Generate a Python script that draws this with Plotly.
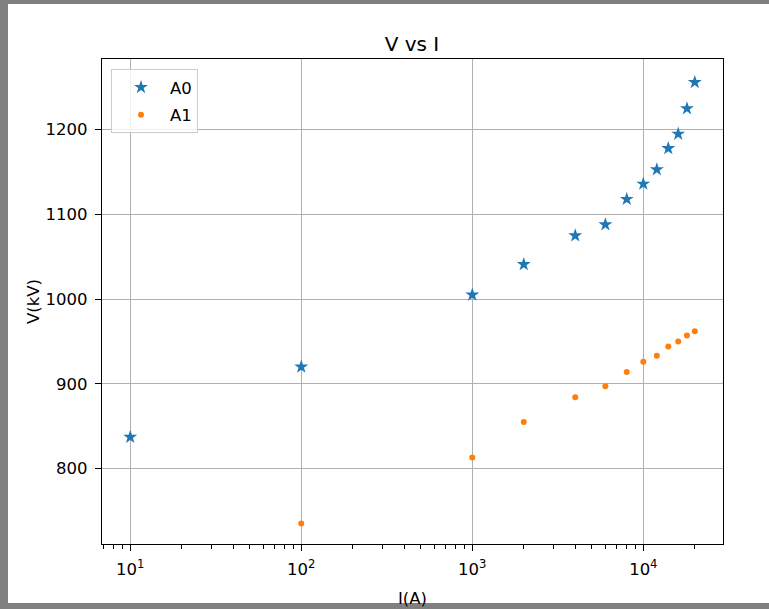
import plotly.graph_objects as go

# ---- data ----
current_a0 = [10, 100, 1000, 2000, 4000, 6000, 8000, 10000, 12000, 14000, 16000, 18000, 20000]
voltage_a0 = [837, 920, 1005, 1041, 1075, 1088, 1118, 1136, 1153, 1178, 1195, 1225, 1256]
current_a1 = [100, 1000, 2000, 4000, 6000, 8000, 10000, 12000, 14000, 16000, 18000, 20000]
voltage_a1 = [735, 813, 855, 884, 897, 914, 926, 933, 944, 950, 957, 962]
x_tick_vals = [10, 100, 1000, 10000]
x_tick_text = ["10<sup>1</sup>", "10<sup>2</sup>", "10<sup>3</sup>", "10<sup>4</sup>"]
y_tick_vals = [800, 900, 1000, 1100, 1200]

W, H = 769, 609
L, R, T, B = 102, 46, 59, 65
pw, ph = W - L - R, H - T - B

FONT = "DejaVu Sans"
minor_vals = [m * 10 ** e for e in range(0, 5) for m in range(2, 10)]

fig = go.Figure()
fig.add_trace(go.Scatter(x=current_a0, y=voltage_a0, mode="markers", name="A0",
                         legendgroup="a0",
                         marker=dict(symbol="star", size=10.5, color="#1f77b4")))
fig.add_trace(go.Scatter(x=current_a1, y=voltage_a1, mode="markers", name="A1",
                         legendgroup="a1",
                         marker=dict(symbol="circle", size=6, color="#ff7f0e")))


def px_x(px):
    return (px - L) / pw


def px_y(py):
    return (H - B - py) / ph


# white figure area over grey frame
fig.add_shape(type="rect", xref="paper", yref="paper",
              x0=px_x(8), x1=px_x(W + 20), y0=px_y(603), y1=px_y(4),
              fillcolor="white", line=dict(width=0), layer="below")

axis_common = dict(showline=True, linecolor="black", linewidth=1.2, mirror=True,
                   ticks="outside", ticklen=6, tickcolor="black", tickwidth=1.2,
                   showgrid=True, gridcolor="#b0b0b0", gridwidth=1,
                   zeroline=False, ticklabelstandoff=4,
                   tickfont=dict(family=FONT, size=16.5, color="black"))

fig.update_xaxes(type="log", range=[0.835, 4.466], tickmode="array",
                 tickvals=x_tick_vals, ticktext=x_tick_text,
                 minor=dict(ticks="outside", ticklen=3.5, tickcolor="black", tickwidth=1,
                            tickmode="array", tickvals=minor_vals, showgrid=False),
                 title=dict(text="I(A)", font=dict(family=FONT, size=16.5, color="black"),
                            standoff=14),
                 **axis_common)
fig.update_yaxes(range=[710.8, 1283.5], tickmode="array", tickvals=y_tick_vals,
                 title=dict(text="V(kV)", font=dict(family=FONT, size=16.5, color="black"),
                            standoff=1),
                 **axis_common)

fig.update_layout(
    width=W, height=H,
    margin=dict(l=L, r=R, t=T, b=B, autoexpand=False),
    paper_bgcolor="#808080", plot_bgcolor="white",
    font=dict(family=FONT, size=16.5, color="black"),
    title=dict(text="V vs I", x=px_x(412), xref="paper", xanchor="center",
               y=1 - 44 / H, yref="container", yanchor="middle",
               font=dict(family=FONT, size=20, color="black")),
    legend=dict(x=px_x(111), y=px_y(69), xanchor="left", yanchor="top",
                bgcolor="rgba(255,255,255,0.8)", bordercolor="#cccccc", borderwidth=1,
                itemwidth=48, tracegroupgap=3,
                font=dict(family=FONT, size=16.5, color="black")),
    showlegend=True,
)

fig.write_html("out.html",
               config={"displayModeBar": False},
               post_script=("document.body.style.margin='0';document.body.style.padding='0';"
                            "document.body.style.overflow='hidden';"
                            "document.documentElement.style.overflow='hidden';"))
